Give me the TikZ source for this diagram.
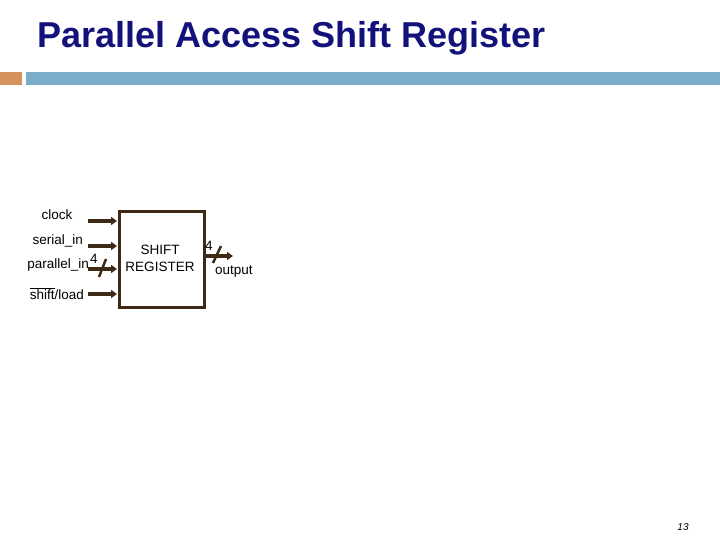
\documentclass[tikz,border=0pt]{standalone}
\usepackage{fontspec}
\setmainfont{Liberation Sans}
\usetikzlibrary{arrows.meta}
\definecolor{titleblue}{HTML}{12127A}
\definecolor{barblue}{HTML}{7BADCB}
\definecolor{barorange}{HTML}{D6925C}
\definecolor{wire}{HTML}{3E2A14}
\begin{document}
\begin{tikzpicture}[x=1bp,y=-1bp,
  lbl/.style={font=\fontsize{13.5bp}{15bp}\selectfont, text=black, inner sep=0pt},
  sig/.style={draw=wire, line width=3.5bp, -{Triangle[length=6bp,width=8bp]}},
  busmark/.style={draw=wire, line width=2.5bp}]
\useasboundingbox (0,0) rectangle (720,540);
\fill[white] (0,0) rectangle (720,540);
% title
\node[anchor=base west, inner sep=0pt, text=titleblue, font=\fontsize{36bp}{40bp}\selectfont\bfseries] (title) at (37,48) {Parallel Access Shift Register};
% bars
\fill[barorange] (0,72) rectangle (21.5,85);
\fill[barblue] (26,72) rectangle (720,85);
% register box
\node[draw=wire, line width=3bp, minimum width=85bp, minimum height=96bp, anchor=north west, inner sep=0pt] (reg) at (118,210) {};
\node[lbl, align=center] (regtxt) at (160,258) {SHIFT\\[2bp]REGISTER};
% input stubs
\coordinate (c0) at (88,221);
\coordinate (c1) at (117,221);
\coordinate (s0) at (88,246);
\coordinate (s1) at (117,246);
\coordinate (p0) at (88,269);
\coordinate (p1) at (117,269);
\coordinate (l0) at (88,294);
\coordinate (l1) at (117,294);
\draw[sig] (c0) -- (c1);
\draw[sig] (s0) -- (s1);
\draw[sig] (p0) -- (p1);
\draw[sig] (l0) -- (l1);
\coordinate (pm0) at (99,277);
\coordinate (pm1) at (106,259);
\draw[busmark] (pm0) -- (pm1);
% output
\coordinate (o0) at (204,256);
\coordinate (o1) at (233,256);
\draw[sig] (o0) -- (o1);
\coordinate (om0) at (213,263);
\coordinate (om1) at (221,246);
\draw[busmark] (om0) -- (om1);
% labels
\node[lbl, anchor=base] (clk) at (57,220) {clock};
\node[lbl, anchor=base east] (ser) at (83,245) {serial\_in};
\node[lbl, anchor=base east] (par) at (89,269) {parallel\_in};
\node[lbl, anchor=base] (pn) at (94,264) {4};
\node[lbl, anchor=base east] (ld) at (84,299) {$\overline{\mbox{shift}}$/load};
\node[lbl, anchor=base] (on) at (209,251) {4};
\node[lbl, anchor=base west] (out) at (215,275) {output};
% page number
\node[anchor=base, inner sep=0pt, font=\fontsize{10bp}{12bp}\selectfont\itshape] (pg) at (683,530) {13};
\end{tikzpicture}
\end{document}
